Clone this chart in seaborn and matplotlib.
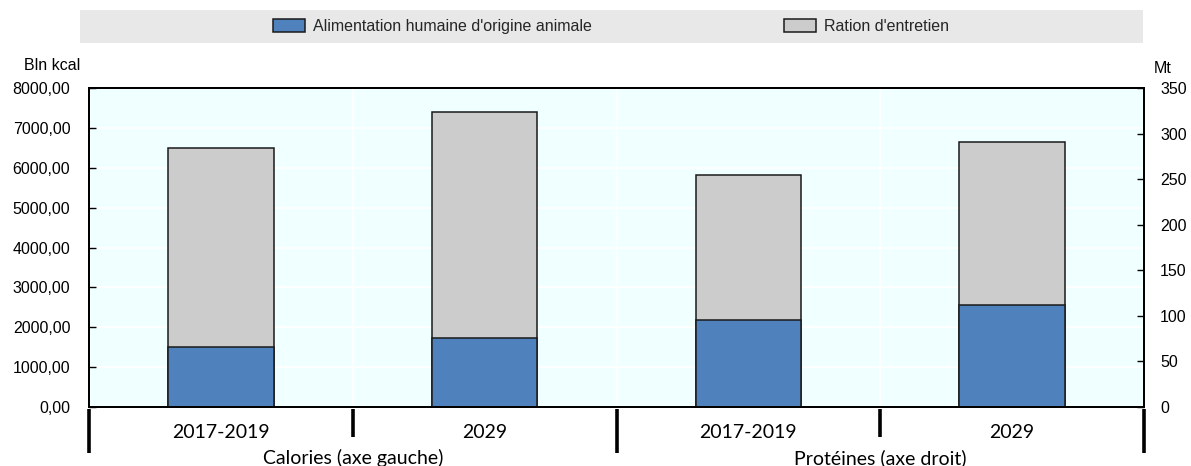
import matplotlib
matplotlib.use("Agg")
import matplotlib.pyplot as plt
import matplotlib.transforms as mtransforms
from matplotlib.patches import Rectangle, Patch
from matplotlib.ticker import FuncFormatter, MultipleLocator
import pandas as pd
import seaborn as sns

# --- data -------------------------------------------------------------
periods = ["2017-2019", "2029"]
groups = ["Calories (axe gauche)", "Protéines (axe droit)"]
series_names = ["Alimentation humaine d'origine animale", "Ration d'entretien"]

calories_animal = [1505, 1730]          # Bln kcal
calories_maintenance = [4990, 5670]     # Bln kcal
proteins_animal = [95.5, 112]           # Mt
proteins_maintenance = [159, 179]       # Mt

left_unit = "Bln kcal"
right_unit = "Mt"

# --- styling ----------------------------------------------------------
BLUE = "#4f81bd"
GREY = "#cccccc"
EDGE = "#1a1a1a"
BG = "#f0ffff"

sns.set_theme(style="white")
plt.rcParams["font.family"] = ["Liberation Sans", "DejaVu Sans"]

slots = [f"{g}|{p}" for g in groups for p in periods]

cal = pd.DataFrame({
    "slot": [f"{groups[0]}|{p}" for p in periods],
    "animal": calories_animal,
    "total": [a + m for a, m in zip(calories_animal, calories_maintenance)],
})
prot = pd.DataFrame({
    "slot": [f"{groups[1]}|{p}" for p in periods],
    "animal": proteins_animal,
    "total": [a + m for a, m in zip(proteins_animal, proteins_maintenance)],
})

fig = plt.figure(figsize=(11.91, 4.66), dpi=100)
ax = fig.add_axes([89 / 1191, 1 - 407 / 466, (1144 - 89) / 1191, (407 - 88) / 466])
ax.set_facecolor(BG)
ax2 = ax.twinx()

bar_kw = dict(order=slots, width=0.4, saturation=1, edgecolor=EDGE,
              linewidth=1.1, errorbar=None)
sns.barplot(data=cal, x="slot", y="total", color=GREY, ax=ax, **bar_kw)
sns.barplot(data=cal, x="slot", y="animal", color=BLUE, ax=ax, **bar_kw)
sns.barplot(data=prot, x="slot", y="total", color=GREY, ax=ax2, **bar_kw)
sns.barplot(data=prot, x="slot", y="animal", color=BLUE, ax=ax2, **bar_kw)

for a in (ax, ax2):
    a.set_xlabel("")
    a.set_ylabel("")
    a.set_xlim(-0.5, len(slots) - 0.5)

# left axis: calories
ax.set_ylim(0, 8000)
ax.yaxis.set_major_locator(MultipleLocator(1000))
ax.yaxis.set_major_formatter(FuncFormatter(lambda v, _: f"{v:.2f}".replace(".", ",")))
# right axis: proteins
ax2.set_ylim(0, 350)
ax2.yaxis.set_major_locator(MultipleLocator(50))
ax2.yaxis.set_major_formatter(FuncFormatter(lambda v, _: f"{v:.0f}"))

# boundaries between categories carry the vertical grid
ax.set_xticks([i + 0.5 for i in range(len(slots) - 1)])
ax.set_xticklabels([])
ax.set_axisbelow(True)
ax.grid(True, axis="both", color="white", linewidth=1.3)

ax.tick_params(axis="y", direction="in", length=5, width=1, color="black",
               labelsize=11.5, pad=13.5, labelcolor="black")
ax.tick_params(axis="x", direction="in", length=6, width=1.2, color="black")
ax2.tick_params(axis="y", direction="in", length=5, width=1, color="black",
                labelsize=11.5, pad=11.5, labelcolor="black")
for a in (ax, ax2):
    for s in a.spines.values():
        s.set_visible(True)
        s.set_color("black")
        s.set_linewidth(1.4)

# category separators and labels under the axis
trans = mtransforms.blended_transform_factory(ax.transData, ax.transAxes)
h = 319.0
for i in range(len(slots) + 1):
    x = i - 0.5
    y_end = -46 / h if i % 2 == 0 else -30 / h
    ax.plot([x, x], [-2 / h, y_end], transform=trans, color="black",
            linewidth=2.6, clip_on=False, solid_capstyle="butt")

label_font = ["Lato", "DejaVu Sans"]
for i, s in enumerate(slots):
    ax.text(i, -26 / h, s.split("|")[1], transform=trans, ha="center",
            va="center", fontsize=14, family=label_font, color="black")
for j, g in enumerate(groups):
    ax.text(2 * j + 0.5, -51 / h, g, transform=trans, ha="center",
            va="center", fontsize=14, family=label_font, color="black")

# units above each axis
fig.text(80 / 1191, 1 - 65 / 466, left_unit, ha="right", va="center",
         fontsize=11.5, color="black")
fig.text(1154 / 1191, 1 - 68 / 466, right_unit, ha="left", va="center",
         fontsize=11.5, color="black")

# legend on a grey band
fig.patches.append(Rectangle((80 / 1191, 1 - 43 / 466), (1143 - 80) / 1191, 33 / 466,
                             transform=fig.transFigure, facecolor="#e8e8e8",
                             edgecolor="none", zorder=0))
handles = [Patch(facecolor=BLUE, edgecolor=EDGE, linewidth=1.1),
           Patch(facecolor=GREY, edgecolor=EDGE, linewidth=1.1)]
fig.legend(handles, series_names, loc="center", ncol=2, frameon=False,
           bbox_to_anchor=(611 / 1191, 1 - 26.5 / 466), fontsize=11.5,
           handlelength=2.0, handleheight=0.8, handletextpad=0.5,
           columnspacing=12.0)

fig.savefig("out.png", dpi=100)
